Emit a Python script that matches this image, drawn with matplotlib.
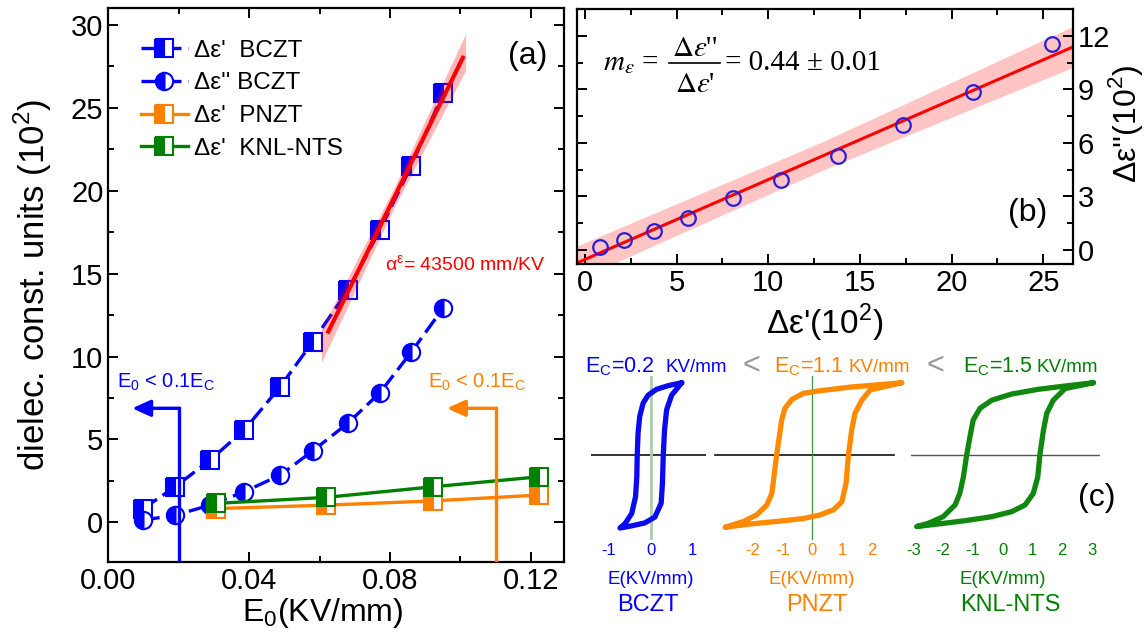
import numpy as np
import matplotlib
matplotlib.use("Agg")
import matplotlib.pyplot as plt
from matplotlib.lines import Line2D
from matplotlib.ticker import MultipleLocator, FormatStrFormatter

plt.rcParams["font.family"] = ["Liberation Sans", "DejaVu Sans"]
plt.rcParams["axes.unicode_minus"] = False

# ---- panel (a): dielectric constant vs field amplitude
e0_bczt = [0.0099, 0.0190, 0.0289, 0.0386, 0.0488, 0.0581, 0.0680, 0.0772, 0.0860, 0.0951]
d1_bczt = [0.84, 2.15, 3.76, 5.57, 8.17, 10.9, 13.98, 17.64, 21.46, 25.85]
d2_bczt = [0.14, 0.44, 1.04, 1.85, 2.85, 4.32, 5.97, 7.83, 10.25, 12.91]
e0_other = [0.0307, 0.0617, 0.0922, 0.1222]
d1_pnzt = [0.84, 1.04, 1.30, 1.65]
d1_knl = [1.15, 1.51, 2.15, 2.75]
fit_a_x = [0.0625, 0.1007]
fit_a_y = [11.5, 28.0]
band_a_x = [0.0605, 0.0810, 0.1015]
band_a_half = [1.0, 0.6, 1.1]

# ---- panel (b): eps'' vs eps'
b_x = [0.84, 2.12, 3.76, 5.64, 8.06, 10.68, 13.8, 17.34, 21.16, 25.5]
b_y = [0.15, 0.52, 1.08, 1.79, 2.91, 3.92, 5.26, 7.02, 8.84, 11.57]
fit_b_x = [-0.45, 26.6]
fit_b_y = [-0.75, 11.38]
band_b_x = [-0.45, 13.0, 26.6]
band_b_half = [0.95, 0.8, 1.15]

# ---- panel (c): hysteresis loops (E in KV/mm, P normalised)
bczt_up_e = [0.74, 0.42, 0.14, -0.06, -0.18, -0.26, -0.30, -0.32, -0.33, -0.36, -0.45, -0.61, -0.73]
bczt_up_p = [0.99, 0.95, 0.90, 0.82, 0.71, 0.53, 0.30, 0.0, -0.30, -0.57, -0.80, -0.94, -1.0]
bczt_lo_e = [-0.73, -0.45, -0.14, 0.10, 0.25, 0.28, 0.30, 0.33, 0.38, 0.50, 0.74]
bczt_lo_p = [-1.0, -0.97, -0.93, -0.85, -0.66, -0.39, 0.0, 0.34, 0.62, 0.82, 0.99]
pnzt_up_e = [3.0, 2.16, 1.27, 0.26, -0.30, -0.69, -0.92, -1.03, -1.11, -1.20, -1.29, -1.36, -1.53, -1.87, -2.31, -2.93]
pnzt_up_p = [0.99, 0.96, 0.93, 0.88, 0.845, 0.76, 0.64, 0.48, 0.25, 0.0, -0.30, -0.525, -0.685, -0.82, -0.91, -0.99]
pnzt_lo_e = [-2.93, -2.09, -1.20, -0.30, 0.26, 0.71, 0.99, 1.13, 1.21, 1.32, 1.43, 1.66, 1.94, 3.0]
pnzt_lo_p = [-0.99, -0.945, -0.91, -0.87, -0.82, -0.75, -0.64, -0.39, 0.0, 0.34, 0.57, 0.75, 0.89, 0.99]
knl_up_e = [3.05, 2.10, 1.20, 0.30, -0.37, -0.76, -0.99, -1.10, -1.21, -1.32, -1.44, -1.60, -2.0, -2.50, -2.89]
knl_up_p = [0.99, 0.945, 0.90, 0.835, 0.75, 0.64, 0.48, 0.25, 0.0, -0.30, -0.525, -0.685, -0.845, -0.936, -0.98]
knl_lo_e = [-2.89, -2.17, -1.27, -0.37, 0.30, 0.75, 1.03, 1.18, 1.25, 1.37, 1.48, 1.70, 2.10, 3.05]
knl_lo_p = [-0.98, -0.945, -0.90, -0.845, -0.776, -0.685, -0.525, -0.30, 0.0, 0.34, 0.57, 0.75, 0.91, 0.99]

BLUE = "#0000ff"
ORANGE = "#ff8000"
GREEN = "#008000"
RED = "#ff0000"

W, H = 1146, 637


def rect(l, t, r, b):
    return [l / W, 1 - b / H, (r - l) / W, (b - t) / H]


def fp(x, y):
    return x / W, 1 - y / H


fig = plt.figure(figsize=(W / 100, H / 100), dpi=100)


def style_box(ax, size):
    for s in ax.spines.values():
        s.set_linewidth(1.6)
    ax.tick_params(which="both", direction="in", top=True, right=True,
                   width=1.4, labelsize=size)
    ax.tick_params(which="major", length=7)
    ax.tick_params(which="minor", length=4)


# ================= panel (a)
ax = fig.add_axes(rect(108.3, 8, 564.2, 562.3))
mk = dict(ms=12.5, mew=1.5, markerfacecoloralt="white", fillstyle="left")
ax.plot(e0_bczt, d1_bczt, color=BLUE, lw=2.4, dashes=(5, 2), marker="s",
        mfc=BLUE, mec=BLUE, label="\u0394\u03b5'  BCZT", zorder=3, **mk)
ax.plot(e0_bczt, d2_bczt, color=BLUE, lw=2.4, dashes=(5, 2), marker="o",
        mfc=BLUE, mec=BLUE, label="\u0394\u03b5'' BCZT", zorder=3, **mk)
ax.plot(e0_other, d1_pnzt, color=ORANGE, lw=2.4, marker="s",
        mfc=ORANGE, mec=ORANGE, label="\u0394\u03b5'  PNZT", zorder=3, **mk)
ax.plot(e0_other, d1_knl, color=GREEN, lw=2.4, marker="s",
        mfc=GREEN, mec=GREEN, label="\u0394\u03b5'  KNL-NTS", zorder=3, **mk)

slope_a = (fit_a_y[1] - fit_a_y[0]) / (fit_a_x[1] - fit_a_x[0])
band_mid = fit_a_y[0] + slope_a * (np.array(band_a_x) - fit_a_x[0])
ax.fill_between(band_a_x, band_mid - np.array(band_a_half), band_mid + np.array(band_a_half),
                color=RED, alpha=0.28, lw=0, zorder=4)
ax.plot(fit_a_x, fit_a_y, color=RED, lw=3, zorder=5)

# E0 < 0.1 Ec arrows
for xv, xt, col in [(0.0202, 0.0068, BLUE), (0.1102, 0.0962, ORANGE)]:
    ax.plot([xv, xv], [-2.4, 6.88], color=col, lw=2.4, zorder=6)
    ax.annotate("", xy=(xt, 6.88), xytext=(xv, 6.88),
                arrowprops=dict(arrowstyle="-|>,head_length=0.55,head_width=0.25",
                                color=col, lw=2.4, mutation_scale=20,
                                shrinkA=0, shrinkB=0),
                zorder=6)

ax.set_xlim(0, 0.1295)
ax.set_ylim(-2.4, 31)
ax.xaxis.set_major_locator(MultipleLocator(0.04))
ax.xaxis.set_minor_locator(MultipleLocator(0.02))
ax.xaxis.set_major_formatter(FormatStrFormatter("%.2f"))
ax.yaxis.set_major_locator(MultipleLocator(5))
ax.yaxis.set_minor_locator(MultipleLocator(2.5))
style_box(ax, 21)
ax.set_xlabel("E$_\\mathregular{0}$(KV/mm)", fontsize=23)
ax.set_ylabel("dielec. const. units (10$^\\mathregular{2}$)", fontsize=25)
ax.xaxis.set_label_coords(0.47, -0.06)
ax.yaxis.set_label_coords(-0.12, 0.5)

ax.legend(loc="upper left", bbox_to_anchor=(0.071, 0.943), frameon=False,
          fontsize=17.5, handlelength=1.96, handletextpad=0.25, labelspacing=0.44,
          borderpad=0, borderaxespad=0)

fig.text(*fp(528, 56), "(a)", fontsize=23, ha="center", va="center")
fig.text(*fp(465, 265), "\u03b1$^\\mathregular{\u03b5}$= 43500 mm/KV", color=RED,
         fontsize=14, ha="center", va="center")
fig.text(*fp(166, 382), "E$_\\mathregular{0}$ < 0.1E$_\\mathregular{C}$", color=BLUE,
         fontsize=14.5, ha="center", va="center")
fig.text(*fp(477, 382), "E$_\\mathregular{0}$ < 0.1E$_\\mathregular{C}$", color=ORANGE,
         fontsize=14.5, ha="center", va="center")

# ================= panel (b)
bx = fig.add_axes(rect(576.6, 9.3, 1072.6, 264))
bmid = np.interp(band_b_x, fit_b_x, fit_b_y)
bx.fill_between(band_b_x, bmid - np.array(band_b_half), bmid + np.array(band_b_half),
                color="#ffc4c4", lw=0, zorder=1)
bx.plot(fit_b_x, fit_b_y, color=RED, lw=2.2, zorder=2)
bx.plot(b_x, b_y, "o", ms=10.5, mfc="none", mec="#2a1fd6", mew=1.6, zorder=3)
bx.set_xlim(-0.45, 26.6)
bx.set_ylim(-0.8, 13.5)
bx.xaxis.set_major_locator(MultipleLocator(5))
bx.xaxis.set_minor_locator(MultipleLocator(2.5))
bx.yaxis.set_major_locator(MultipleLocator(3))
bx.yaxis.set_minor_locator(MultipleLocator(1.5))
style_box(bx, 21)
bx.tick_params(labelleft=False, labelright=True)
bx.set_xlabel("\u0394\u03b5'(10$^\\mathregular{2}$)", fontsize=24)
bx.xaxis.set_label_coords(0.5, -0.15)
bx.yaxis.set_label_position("right")
bx.set_ylabel("\u0394\u03b5''(10$^\\mathregular{2}$)", fontsize=23, rotation=90)
bx.yaxis.set_label_coords(1.068, 0.55)

# m_eps = d eps'' / d eps' = 0.44 +- 0.01, built piece by piece
eq = dict(fontsize=21, family=["Liberation Serif", "DejaVu Serif"], math_fontfamily="stix")
fig.text(*fp(603, 70), r"$m_\varepsilon$ =", ha="left", va="baseline", **eq)
fig.text(*fp(695, 56), r"$\Delta\varepsilon$''", ha="center", va="baseline", **eq)
fig.text(*fp(695, 92), r"$\Delta\varepsilon$'", ha="center", va="baseline", **eq)
fig.add_artist(Line2D([669 / W, 720 / W], [1 - 63 / H, 1 - 63 / H], color="black", lw=1.2))
fig.text(*fp(725, 70), "= 0.44 \u00b1 0.01", ha="left", va="baseline", **eq)
fig.text(*fp(1028, 213), "(b)", fontsize=23, ha="center", va="center")

# ================= panel (c)
loops = [
    (rect(591, 376, 705.7, 540), (-1.42, 1.31), [-1, 0, 1], BLUE, "#0a0af0",
     bczt_up_e, bczt_up_p, bczt_lo_e, bczt_lo_p, (-1.42, 1.31), "#111111", 1.2,
     ("#a9cfa9", 2.0)),
    (rect(712, 376, 905, 540), (-3.37, 3.11), [-2, -1, 0, 1, 2], ORANGE, "#ff8a00",
     pnzt_up_e, pnzt_up_p, pnzt_lo_e, pnzt_lo_p, (-3.27, 2.74), "#111111", 1.2,
     ("#3c963c", 0.9)),
    (rect(911, 376, 1100, 540), (-3.08, 3.27), [-3, -2, -1, 0, 1, 2, 3], GREEN, "#108810",
     knl_up_e, knl_up_p, knl_lo_e, knl_lo_p, (-3.08, 3.27), "#555555", 1.0,
     None),
]
for pos, xl, ticks, tc, lc, ue, up, le, lp, hl, hc, hw, vline in loops:
    cx = fig.add_axes(pos)
    cx.set_xlim(*xl)
    cx.set_ylim(-1.164, 1.082)
    for s in cx.spines.values():
        s.set_visible(False)
    cx.set_yticks([])
    cx.set_xticks(ticks)
    cx.tick_params(axis="x", length=0, labelsize=12, labelcolor=tc, pad=2)
    cx.plot(hl, [0, 0], color=hc, lw=hw, zorder=1)
    if vline:
        cx.axvline(0, color=vline[0], lw=vline[1], zorder=1)
    cx.plot(ue + le, up + lp, color=lc, lw=3.8, solid_joinstyle="round",
            solid_capstyle="round", zorder=2, clip_on=False)

titles = [(585, 727, "0.2", BLUE), (774, 910, "1.1", ORANGE), (963, 1098, "1.5", GREEN)]
for x0, x1, val, col in titles:
    fig.text(*fp(x0, 372), "E$_\\mathregular{C}$=" + val, color=col, fontsize=15.5,
             ha="left", va="baseline")
    fig.text(*fp(x1, 372), "KV/mm", color=col, fontsize=13.5, ha="right", va="baseline")
for x in (751, 935):
    fig.text(*fp(x, 366), "<", color="#999999", fontsize=22, ha="center", va="center")

for x, col in [(651, BLUE), (812, ORANGE), (1003, GREEN)]:
    fig.text(*fp(x, 579), "E(KV/mm)", color=col, fontsize=13.5, ha="center", va="center")
for x, name, col in [(648, "BCZT", BLUE), (817, "PNZT", ORANGE), (1010, "KNL-NTS", GREEN)]:
    fig.text(*fp(x, 605), name, color=col, fontsize=17, ha="center", va="center")
fig.text(*fp(1097, 498), "(c)", fontsize=23, ha="center", va="center")

fig.savefig("out.png", dpi=100)
